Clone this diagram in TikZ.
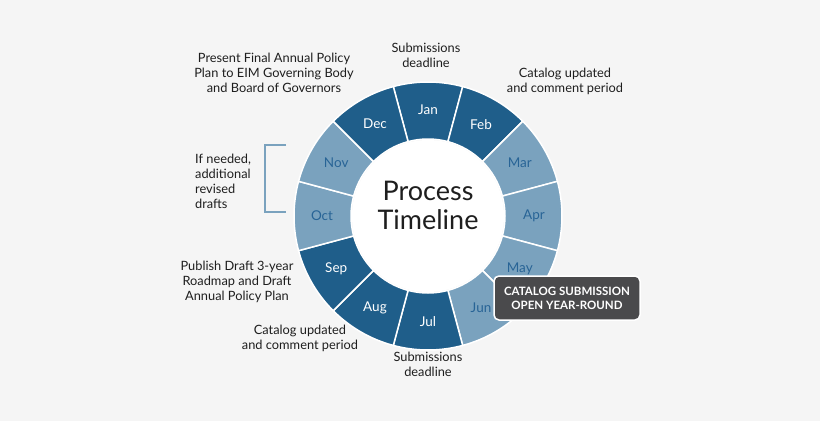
\documentclass[tikz,border=0pt]{standalone}
\usepackage{fontspec}
\setmainfont{Lato}
\usetikzlibrary{calc}
\definecolor{bg}{RGB}{245,245,245}
\definecolor{dkb}{RGB}{31,94,138}
\definecolor{ltb}{RGB}{122,162,190}
\definecolor{ltxt}{RGB}{40,100,150}
\definecolor{txt}{RGB}{30,30,30}
\definecolor{box}{RGB}{74,74,76}
\begin{document}
\begin{tikzpicture}[x=1pt,y=-1pt,
  dk/.style={fill=dkb},
  lt/.style={fill=ltb},
  dkt/.style={text=white,font=\fontsize{13.5}{15}\selectfont},
  ltt/.style={text=ltxt,font=\fontsize{13.5}{15}\selectfont},
  lab/.style={align=center,font=\fontsize{12.8}{15}\selectfont,text=txt,inner sep=1pt}]
\fill[bg] (0,0) rectangle (820,421);
\useasboundingbox (0,0) rectangle (820,421);
\coordinate (c) at (428,216);
\foreach \m/\k/\s in {Jan/0/dk,Feb/1/dk,Mar/2/lt,Apr/3/lt,May/4/lt,Jun/5/lt,Jul/6/dk,Aug/7/dk,Sep/8/dk,Oct/9/lt,Nov/10/lt,Dec/11/dk}{
  \pgfmathsetmacro\a{-90+30*\k}
  \path[\s,draw=white,line width=1.5pt] ($(c)+(\a-15:134)$) arc[start angle=\a-15,end angle=\a+15,radius=134]
     -- ($(c)+(\a+15:77)$) arc[start angle=\a+15,end angle=\a-15,radius=77] -- cycle;
}
\foreach \m/\k/\s in {Jan/0/dkt,Feb/1/dkt,Mar/2/ltt,Apr/3/ltt,May/4/ltt,Jun/5/ltt,Jul/6/dkt,Aug/7/dkt,Sep/8/dkt,Oct/9/ltt,Nov/10/ltt,Dec/11/dkt}{
  \pgfmathsetmacro\a{-90+30*\k}
  \node[\s] (m\k) at ($(c)+(\a:106)$) {\m};
}
\fill[white] (c) circle (76);
\node[align=center,font=\fontsize{27}{29}\selectfont,text=txt] (pt) at (428,205) {Process\\Timeline};
\node[lab] (t1) at (274,73) {Present Final Annual Policy\\Plan to EIM Governing Body\\and Board of Governors};
\node[lab] (t2) at (426,55) {Submissions\\deadline};
\node[lab] (t3) at (565,81) {Catalog updated\\and comment period};
\node[lab,align=left,anchor=west] (t4) at (194,181) {If needed,\\additional\\revised\\drafts};
\node[lab] (t5) at (237,282) {Publish Draft 3-year\\Roadmap and Draft\\Annual Policy Plan};
\node[lab] (t6) at (300,338) {Catalog updated\\and comment period};
\node[lab] (t7) at (428,364) {Submissions\\deadline};
\draw[ltb,line width=1.5pt] (286,145) -- (265,145) -- (265,212) -- (286,212);
\node[draw=white,line width=1.5pt,fill=box,rounded corners=5pt,text=white,
  font=\bfseries\fontsize{11.5}{14}\selectfont,align=center,minimum width=146pt,minimum height=44pt] (cb) at (567,298)
  {CATALOG SUBMISSION\\OPEN YEAR-ROUND};
\end{tikzpicture}
\end{document}
